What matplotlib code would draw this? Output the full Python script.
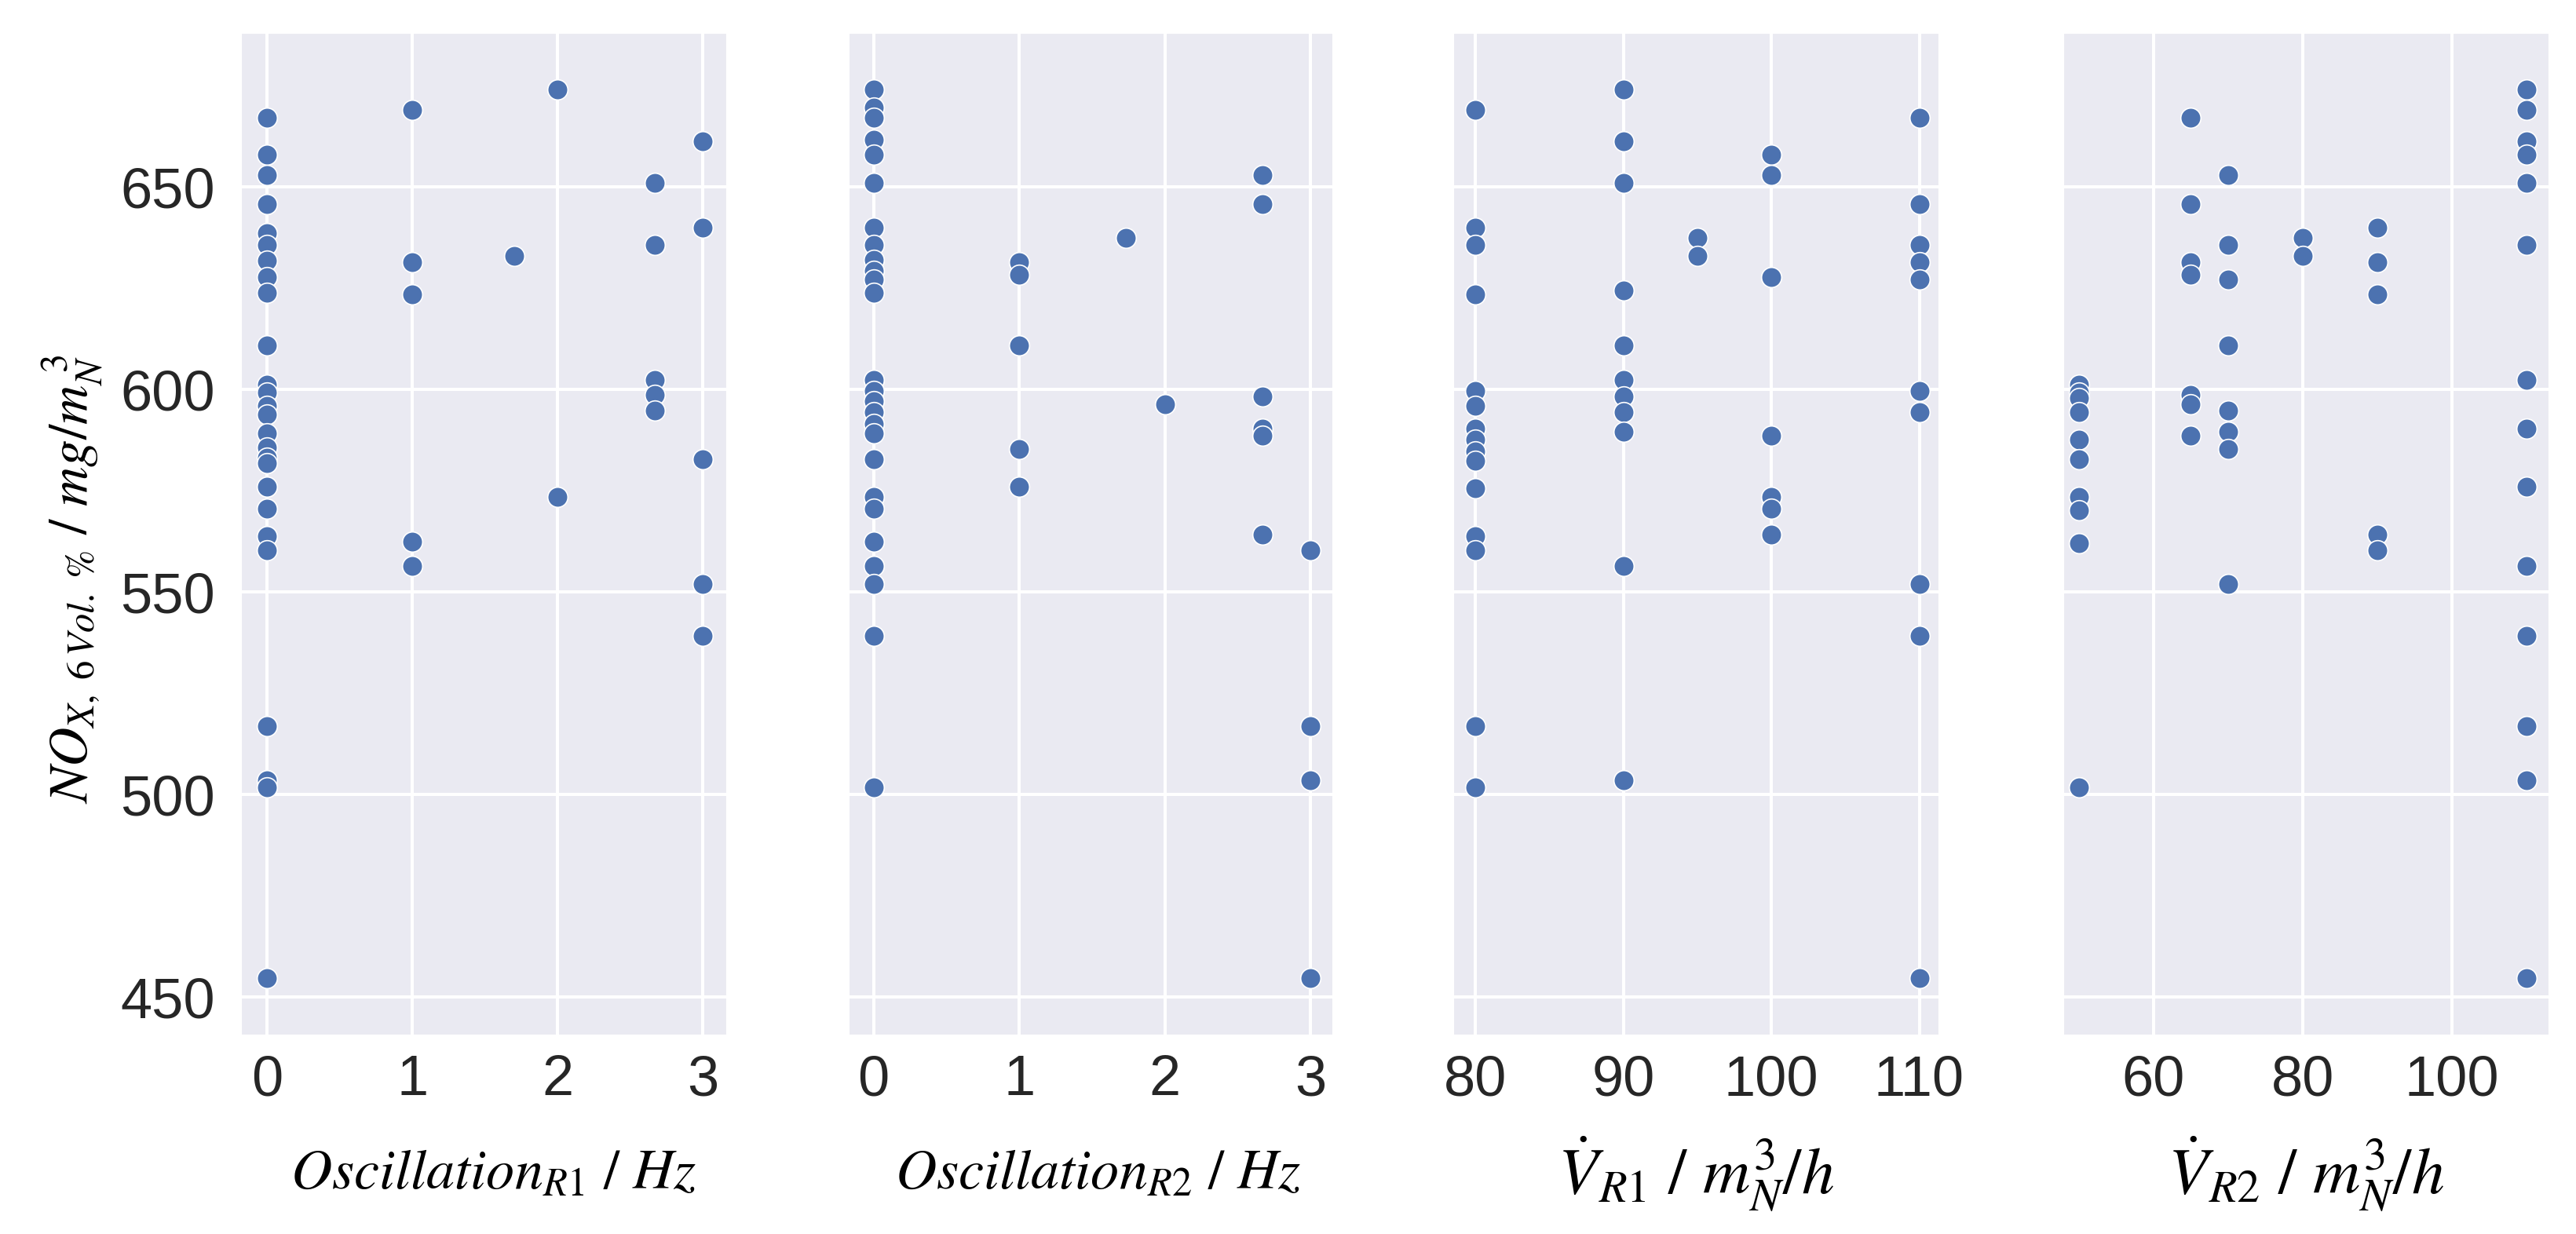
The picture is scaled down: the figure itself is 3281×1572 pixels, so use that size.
import matplotlib.pyplot as plt
import seaborn as sns

# NOx readings (mg/m_N^3) grouped by the x level of each panel
OSC_R1_LEVELS = [0, 1, 1.7, 2, 2.67, 3]
OSC_R1_NOX = [
    [667.1, 657.9, 652.9, 645.7, 638.6, 635.7, 631.8, 627.8, 623.9, 610.9,
     601.2, 599.2, 595.9, 593.8, 589.1, 585.7, 583.1, 581.8, 576.0, 570.5,
     563.8, 560.3, 516.9, 503.5, 501.7, 454.6],
    [669.0, 631.5, 623.5, 562.4, 556.4],
    [632.9],
    [674.0, 573.5],
    [651.0, 635.7, 602.3, 598.6, 594.8],
    [661.2, 639.9, 582.8, 551.9, 539.1],
]

OSC_R2_LEVELS = [0, 1, 1.73, 2, 2.67, 3]
OSC_R2_NOX = [
    [674.0, 669.6, 667.1, 661.6, 657.9, 651.0, 639.9, 635.7, 632.0, 629.3,
     627.1, 623.9, 602.3, 599.7, 597.1, 594.4, 591.5, 589.1, 582.8, 573.5,
     570.5, 562.4, 556.4, 551.9, 539.1, 501.7],
    [631.5, 628.3, 610.9, 585.2, 576.0],
    [637.4],
    [596.3],
    [652.9, 645.7, 598.2, 590.4, 588.6, 564.1],
    [560.3, 516.9, 503.5, 454.6],
]

V_R1_LEVELS = [80, 90, 95, 100, 110]
V_R1_NOX = [
    [669.0, 639.9, 635.7, 623.5, 599.7, 595.9, 590.4, 587.6, 584.7, 582.4,
     575.6, 563.8, 560.3, 516.9, 501.7],
    [674.0, 661.2, 651.0, 624.4, 610.9, 602.3, 598.2, 594.4, 589.5, 556.4, 503.5],
    [637.4, 632.9],
    [657.9, 652.9, 627.8, 588.6, 573.5, 570.5, 564.1],
    [667.1, 645.7, 635.7, 631.5, 627.1, 599.7, 594.4, 551.9, 539.1, 454.6],
]

V_R2_LEVELS = [50, 65, 70, 80, 90, 110]
V_R2_NOX = [
    [601.2, 599.2, 597.9, 594.4, 587.6, 582.8, 573.5, 570.1, 562.0, 501.7],
    [667.1, 645.7, 631.5, 628.3, 598.6, 596.3, 588.6],
    [652.9, 635.7, 627.1, 610.9, 594.8, 589.5, 585.2, 551.9],
    [637.4, 632.9],
    [639.9, 631.5, 623.5, 564.1, 560.3],
    [674.0, 669.0, 661.2, 657.9, 651.0, 635.7, 602.3, 590.4, 576.0, 556.4,
     539.1, 516.9, 503.5, 454.6],
]

X_LABELS = [
    r"$Oscillation_{R1}\ /\ Hz$",
    r"$Oscillation_{R2}\ /\ Hz$",
    r"$\dot{V}_{R1}\ /\ m_N^3/h$",
    r"$\dot{V}_{R2}\ /\ m_N^3/h$",
]
Y_LABEL = r"$NO_{X,\ 6\,Vol.\ \%}\ /\ mg/m_N^{\ 3}$"
Y_TICKS = [450, 500, 550, 600, 650]


def flatten(levels, groups):
    xs, ys = [], []
    for level, values in zip(levels, groups):
        xs += [level] * len(values)
        ys += values
    return xs, ys


sns.set_style("darkgrid")
plt.rcParams["font.family"] = ["Liberation Sans", "DejaVu Sans"]
plt.rcParams["mathtext.fontset"] = "stix"

W, H = 3281, 1572
fig = plt.figure(figsize=(W / 100, H / 100), dpi=100)

panels = [
    (OSC_R1_LEVELS, OSC_R1_NOX, 307, 618, (-0.18, 3.16), [0, 1, 2, 3], 0.52, 52),
    (OSC_R2_LEVELS, OSC_R2_NOX, 1081, 616, (-0.17, 3.15), [0, 1, 2, 3], 0.515, 52),
    (V_R1_LEVELS, V_R1_NOX, 1851, 618, (78.5, 111.3), [80, 90, 100, 110], 0.5, 60),
    (V_R2_LEVELS, V_R2_NOX, 2628, 618, (47.9, 113), [60, 80, 100], 0.5, 60),
]
ax_top, ax_bottom = 42, 1318

for i, (levels, groups, left, width, xlim, xticks, lab_x, lab_size) in enumerate(panels):
    ax = fig.add_axes([left / W, 1 - ax_bottom / H, width / W, (ax_bottom - ax_top) / H])
    xs, ys = flatten(levels, groups)
    ax.scatter(xs, ys, s=340, color="#4C72B0", edgecolor="white", linewidth=1.2, zorder=3)
    ax.set_xlim(*xlim)
    ax.set_ylim(440.7, 688)
    ax.set_xticks(xticks)
    ax.set_yticks(Y_TICKS)
    ax.grid(color="white", linewidth=2.9)
    ax.tick_params(axis="both", length=0, labelsize=52, labelcolor="#262626")
    ax.tick_params(axis="x", pad=18)
    ax.tick_params(axis="y", pad=24)
    ax.set_xlabel(X_LABELS[i], fontsize=lab_size, color="black")
    ax.xaxis.set_label_coords(lab_x, -0.1395)
    ax.xaxis.label.set_va("center")
    if i == 0:
        ax.set_ylabel(Y_LABEL, fontsize=50, color="black")
        ax.yaxis.set_label_coords(-0.348, 0.455)
        ax.yaxis.label.set_va("center")
    else:
        ax.tick_params(axis="y", labelleft=False)

fig.savefig("out.png", dpi=100)
